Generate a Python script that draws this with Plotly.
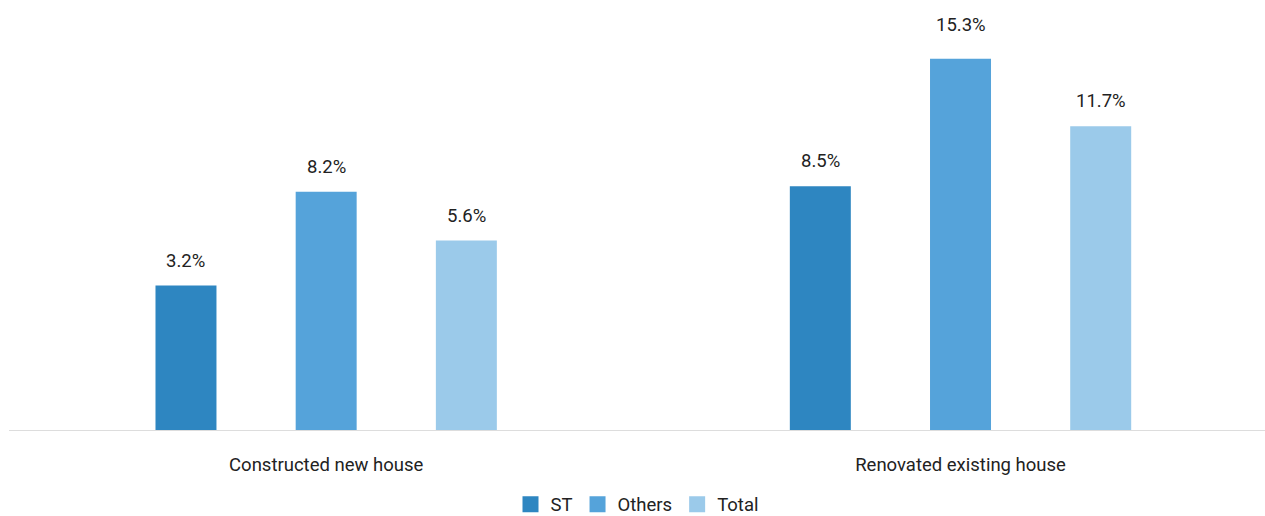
import plotly.graph_objects as go

# Share of households, by type of house work and social group
categories = ["Constructed new house", "Renovated existing house"]
series_names = ["ST", "Others", "Total"]
st_values = [3.2, 8.5]
others_values = [8.2, 15.3]
total_values = [5.6, 11.7]
series_values = [st_values, others_values, total_values]
colors = ["#2E86C1", "#55A3DA", "#9BCAEA"]

Y_FLOOR = -4.5
Y_CEIL = 18
BARGAP = 0.337
BARGROUPGAP = 0.565
FONT = "Roboto, Arial, sans-serif"
TEXT_COLOR = "#222222"
FONT_SIZE = 18.5

fig = go.Figure()

for name, vals, col in zip(series_names, series_values, colors):
    fig.add_trace(go.Bar(
        x=categories,
        y=[v - Y_FLOOR for v in vals],
        base=Y_FLOOR,
        name=name,
        marker=dict(color=col, line=dict(width=0)),
        showlegend=False,
        hoverinfo="skip",
    ))
    # legend entry with a larger square swatch
    fig.add_trace(go.Scatter(
        x=[None], y=[None], mode="markers", name=name,
        marker=dict(symbol="square", size=16, color=col),
    ))

# value labels above each bar; the tallest one sits a little higher
slot = (1 - BARGAP) / len(series_names)
peak = max(max(v) for v in series_values)
for j, vals in enumerate(series_values):
    for i, v in enumerate(vals):
        fig.add_annotation(
            x=i + (j - (len(series_names) - 1) / 2) * slot,
            y=v,
            text=f"{v:.1f}%",
            showarrow=False,
            yanchor="middle",
            yshift=34 if v == peak else 25,
            font=dict(family=FONT, size=FONT_SIZE, color=TEXT_COLOR),
        )

fig.update_layout(
    width=1265,
    height=516,
    margin=dict(l=9, r=0, t=8, b=86, autoexpand=False),
    paper_bgcolor="white",
    plot_bgcolor="white",
    barmode="group",
    bargap=BARGAP,
    bargroupgap=BARGROUPGAP,
    font=dict(family=FONT, size=FONT_SIZE, color=TEXT_COLOR),
    xaxis=dict(
        type="category",
        range=[-0.5, 1.48],
        showline=True,
        linecolor="#DDDDDD",
        linewidth=1,
        showgrid=False,
        ticks="",
        ticklabelstandoff=18,
        tickfont=dict(family=FONT, size=FONT_SIZE, color=TEXT_COLOR),
    ),
    yaxis=dict(
        range=[Y_FLOOR, Y_CEIL],
        visible=False,
        showgrid=False,
        zeroline=False,
    ),
    legend=dict(
        orientation="h",
        x=0.5,
        xanchor="center",
        y=0.022,
        yref="container",
        yanchor="middle",
        font=dict(family=FONT, size=FONT_SIZE, color=TEXT_COLOR),
        itemsizing="trace",
    ),
)

fig.write_html("out.html")
